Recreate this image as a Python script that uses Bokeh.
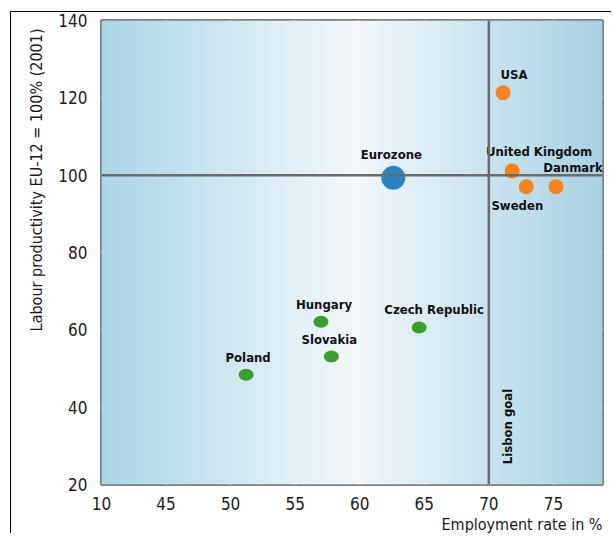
import numpy as np
from bokeh.plotting import figure
from bokeh.models import ColumnDataSource, Span, Label, FixedTicker, CDSView, IndexFilter, Title
from bokeh.core.properties import value
from bokeh.embed import file_html
from bokeh.resources import INLINE

# ---- data ----
countries = ["USA", "United Kingdom", "Sweden", "Danmark", "Eurozone",
             "Hungary", "Czech Republic", "Slovakia", "Poland"]
employment = [71.1, 71.8, 72.9, 75.2, 62.6, 57.0, 64.6, 57.8, 51.2]
productivity = [121.3, 101.1, 97.0, 97.0, 99.3, 62.1, 60.6, 53.1, 48.4]
groups = ["other", "other", "other", "other", "euro",
          "new", "new", "new", "new"]
x_ticks = [40, 45, 50, 55, 60, 65, 70, 75]
x_tick_labels = ["10", "45", "50", "55", "60", "65", "70", "75"]
y_ticks = [20, 40, 60, 80, 100, 120, 140]
lisbon_goal = 70
eu_reference = 100

# ---- layout helpers (pixel offsets for labels) ----
label_dx = [11, 27, -9, 17, -2, 3, 15, -2, 2]
label_dy = [-18, -19, 19, -19, -23, -17, -18, -17, -17]

FONT = "DejaVu Sans Condensed"
X0, X1, Y0, Y1 = 40, 78.8, 20, 140

p = figure(width=601, height=522, x_range=(X0, X1), y_range=(Y0, Y1),
           output_backend="svg", toolbar_location=None,
           min_border_left=90, min_border_right=10, min_border_top=8,
           min_border_bottom=50)
p.styles = {"border-top": "1px solid black", "border-left": "1px solid black",
            "margin-left": "10px", "margin-top": "11px"}

# background gradient
n = 300
xs = np.linspace(0, 1, n)
c_edge_l = np.array([172, 214, 231])
c_edge_r = np.array([168, 210, 228])
c_mid = np.array([243, 248, 251])
mid = (59.5 - X0) / (X1 - X0)
cols = np.zeros((n, 3))
for i, t in enumerate(xs):
    if t < mid:
        f = (t / mid)
        cols[i] = c_edge_l + (c_mid - c_edge_l) * f
    else:
        f = (t - mid) / (1 - mid)
        cols[i] = c_mid + (c_edge_r - c_mid) * f
img = np.zeros((1, n), dtype=np.uint32)
view = img.view(dtype=np.uint8).reshape((1, n, 4))
view[0, :, 0] = cols[:, 0]
view[0, :, 1] = cols[:, 1]
view[0, :, 2] = cols[:, 2]
view[0, :, 3] = 255
p.image_rgba(image=[img], x=X0, y=Y0, dw=X1 - X0, dh=Y1 - Y0)

# grid
p.xgrid.ticker = FixedTicker(ticks=[t for t in x_ticks if t not in (40, lisbon_goal)])
p.ygrid.ticker = FixedTicker(ticks=[t for t in y_ticks if t not in (20, 140, eu_reference)])
p.grid.grid_line_color = "white"
p.grid.grid_line_width = 3
p.grid.level = "image"
p.background_fill_color = "#cfe6f0"
p.outline_line_color = "#7f7f7f"
p.outline_line_width = 3

# reference lines
p.add_layout(Span(location=eu_reference, dimension="width",
                  line_color="#6b6b6b", line_width=2.5))
p.add_layout(Span(location=lisbon_goal, dimension="height",
                  line_color="#6b6b6b", line_width=2.5))

# axes
p.xaxis.ticker = FixedTicker(ticks=x_ticks)
p.xaxis.major_label_overrides = {t: l for t, l in zip(x_ticks, x_tick_labels)}
p.yaxis.ticker = FixedTicker(ticks=y_ticks)
for ax in (p.xaxis, p.yaxis):
    ax.axis_line_color = None
    ax.major_tick_line_color = None
    ax.minor_tick_line_color = None
    ax.major_label_text_font = FONT
    ax.major_label_text_font_size = "17px"
    ax.major_label_text_color = "#1a1a1a"
p.xaxis.major_label_standoff = 6
p.yaxis.major_label_standoff = 8

src = ColumnDataSource(dict(x=employment, y=productivity, name=countries,
                            g=groups, dx=label_dx, dy=label_dy))
o_idx = [i for i, g in enumerate(groups) if g == "other"]
e_idx = [i for i, g in enumerate(groups) if g == "euro"]
n_idx = [i for i, g in enumerate(groups) if g == "new"]
p.scatter("x", "y", source=src, view=CDSView(filter=IndexFilter(o_idx)),
          size=15, color="#f7841c", line_color=None)
p.scatter("x", "y", source=src, view=CDSView(filter=IndexFilter(e_idx)),
          size=24, color="#2a86c2", line_color=None)
p.ellipse("x", "y", source=src, view=CDSView(filter=IndexFilter(n_idx)),
          width=15, height=12, width_units="screen", height_units="screen",
          color="#3a9d2e", line_color=None)

p.text("x", "y", text="name", source=src, x_offset="dx", y_offset="dy",
       text_font=value(FONT), text_font_style="bold", text_font_size="13px",
       text_align="center", text_baseline="middle", text_color="#111111")

p.add_layout(Label(x=lisbon_goal, y=35, x_offset=19, text="Lisbon goal",
                   angle=np.pi / 2, text_font=FONT, text_font_style="bold",
                   text_font_size="13px", text_align="center",
                   text_baseline="middle", text_color="#111111"))

p.add_layout(Title(text="Labour productivity EU-12 = 100% (2001)",
                   align="right", offset=8, standoff=20,
                   text_font=FONT, text_font_size="16px",
                   text_font_style="normal", text_color="#1a1a1a"), "left")
p.add_layout(Title(text="Employment rate in %", align="right", offset=0,
                   standoff=0, text_font=FONT, text_font_size="16px",
                   text_font_style="normal", text_color="#1a1a1a"), "below")

open("out.html", "w").write(file_html(p, INLINE))
